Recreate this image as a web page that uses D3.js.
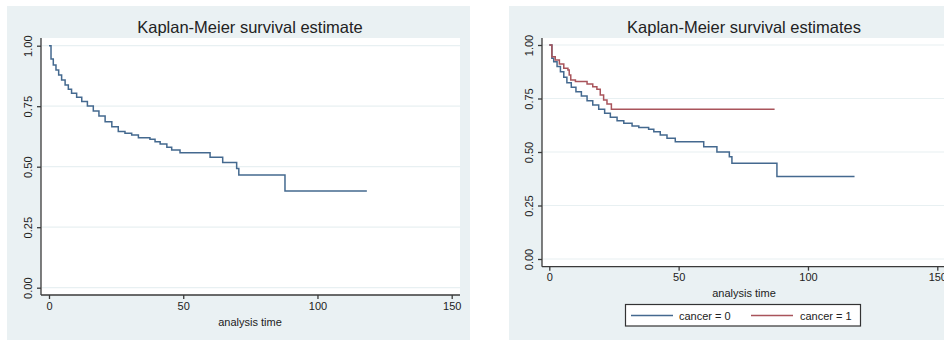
<!DOCTYPE html>
<html>
<head>
<meta charset="utf-8">
<script src="https://cdn.jsdelivr.net/npm/d3@7"></script>
<style>
  html, body { margin: 0; padding: 0; background: #ffffff; }
  svg { display: block; }
  text { font-family: "Liberation Sans", Arial, Helvetica, sans-serif; fill: #222; }
</style>
</head>
<body>
<svg id="chart" width="944" height="340"></svg>
<script>
// ---- data ----
const yTicks = [0, 0.25, 0.5, 0.75, 1];
const xTicks = [0, 50, 100, 150];
const titles = ["Kaplan-Meier survival estimate", "Kaplan-Meier survival estimates"];
const xAxisTitle = "analysis time";
const legendLabels = ["cancer = 0", "cancer = 1"];

const overallTime = [0, 0.75, 1.6, 2.6, 3.6, 4.7, 6.0, 7.2, 8.4, 10.3, 12.2, 14.3, 16.5, 18.6, 20.9, 23.4, 25.8, 28.3, 30.8, 33.3, 37.6, 39.5, 41.4, 43.9, 45.7, 48.8, 60.0, 64.7, 69.9, 70.7, 87.9, 118.4];
const overallSurv = [1, 0.945, 0.92, 0.90, 0.879, 0.858, 0.838, 0.82, 0.803, 0.787, 0.769, 0.751, 0.730, 0.709, 0.686, 0.665, 0.645, 0.638, 0.631, 0.620, 0.613, 0.603, 0.594, 0.580, 0.569, 0.558, 0.539, 0.517, 0.493, 0.466, 0.40, 0.40];

const cancer0Time = [0, 1.0, 1.7, 3.0, 4.3, 5.6, 6.8, 8.5, 10.3, 12.4, 14.6, 16.8, 19.1, 21.4, 23.6, 26.2, 28.8, 32.0, 34.6, 38.4, 40.4, 42.9, 45.5, 48.7, 59.7, 64.8, 69.6, 70.6, 88.0, 118.0];
const cancer0Surv = [1, 0.938, 0.922, 0.899, 0.875, 0.849, 0.824, 0.802, 0.782, 0.762, 0.740, 0.720, 0.700, 0.681, 0.662, 0.646, 0.634, 0.621, 0.614, 0.606, 0.595, 0.579, 0.564, 0.548, 0.525, 0.500, 0.478, 0.447, 0.385, 0.385];

const cancer1Time = [0, 1.0, 2.3, 3.9, 5.6, 7.2, 7.7, 8.3, 10.1, 14.6, 16.8, 18.4, 19.7, 21.0, 22.3, 24.0, 87.1];
const cancer1Surv = [1, 0.945, 0.930, 0.911, 0.891, 0.883, 0.860, 0.836, 0.829, 0.818, 0.805, 0.793, 0.766, 0.743, 0.724, 0.700, 0.700];

const colors = ["#44698f", "#a9545b"];
const BG = "#eaf1f3";

const svg = d3.select("#chart");

function panel(cfg) {
  const g = svg.append("g");
  g.append("rect").attr("x", cfg.bg[0]).attr("y", cfg.bg[1])
    .attr("width", cfg.bg[2]).attr("height", cfg.bg[3]).attr("fill", BG);
  g.append("rect").attr("x", cfg.plot[0]).attr("y", cfg.plot[1])
    .attr("width", cfg.plot[2] - cfg.plot[0]).attr("height", cfg.plot[3] - cfg.plot[1])
    .attr("fill", "#ffffff");

  const x = d3.scaleLinear().domain([0, 150]).range(cfg.xr);
  const y = d3.scaleLinear().domain([0, 1]).range(cfg.yr);

  g.append("g").selectAll("line").data(yTicks).join("line")
    .attr("x1", cfg.plot[0] + 1).attr("x2", cfg.plot[2])
    .attr("y1", d => y(d)).attr("y2", d => y(d))
    .attr("stroke", "#e8f0f2").attr("stroke-width", 1.2);

  const xa = g.append("g").attr("transform", `translate(0,${cfg.plot[3]})`)
    .call(d3.axisBottom(x).tickValues(xTicks).tickSize(4).tickPadding(3).tickFormat(d3.format("d")));
  xa.select(".domain").attr("d", `M${cfg.plot[0]},0H${cfg.plot[2]}`);
  xa.selectAll("path,line").attr("stroke", "#3a3a3a").attr("stroke-width", 1.3);
  xa.selectAll("text").attr("font-size", 11).attr("fill", "#222")
    .style("font-family", '"Liberation Sans", Arial, sans-serif');

  const ya = g.append("g").attr("transform", `translate(${cfg.plot[0]},0)`)
    .call(d3.axisLeft(y).tickValues(yTicks).tickSize(4).tickFormat(d3.format(".2f")));
  ya.select(".domain").attr("d", `M0,${cfg.plot[1]}V${cfg.plot[3]}`);
  ya.selectAll("path,line").attr("stroke", "#3a3a3a").attr("stroke-width", 1.3);
  ya.selectAll("text")
    .attr("font-size", 11).attr("fill", "#222")
    .attr("x", null).attr("dy", null)
    .attr("text-anchor", "middle")
    .attr("transform", "translate(-12,0) rotate(-90)")
    .attr("dominant-baseline", "middle")
    .style("font-family", '"Liberation Sans", Arial, sans-serif');

  const line = d3.line().x(d => x(d[0])).y(d => y(d[1])).curve(d3.curveStepAfter);
  cfg.series.forEach((s, i) => {
    const pts = s.t.map((t, k) => [t, s.s[k]]);
    g.append("path").datum(pts).attr("d", line)
      .attr("fill", "none").attr("stroke", colors[i]).attr("stroke-width", 1.5);
  });

  g.append("text").attr("x", cfg.titleX).attr("y", 32.5).attr("text-anchor", "middle")
    .attr("font-size", 16.5).attr("fill", "#1e1e1e").text(cfg.title);
  g.append("text").attr("x", cfg.titleX).attr("y", cfg.xtitleY).attr("text-anchor", "middle")
    .attr("font-size", 11).attr("fill", "#222").text(xAxisTitle);
  return {x, y};
}

panel({
  bg: [7, 6, 463, 334],
  plot: [41, 38, 460, 295],
  xr: [49, 451.7],
  yr: [287.7, 45.7],
  titleX: 250,
  xtitleY: 326,
  title: titles[0],
  series: [{t: overallTime, s: overallSurv}]
});

panel({
  bg: [509, 6, 435, 334],
  plot: [542, 38, 944, 266.7],
  xr: [549.3, 937.3],
  yr: [259, 45],
  titleX: 744,
  xtitleY: 297,
  title: titles[1],
  series: [{t: cancer0Time, s: cancer0Surv}, {t: cancer1Time, s: cancer1Surv}]
});

const lg = svg.append("g");
lg.append("rect").attr("x", 625.5).attr("y", 304.5).attr("width", 235).attr("height", 21.5)
  .attr("fill", "#ffffff").attr("stroke", "#333").attr("stroke-width", 1.2);
const legendItems = [
  {x1: 631, x2: 673, tx: 679},
  {x1: 751, x2: 793, tx: 800}
];
legendItems.forEach((it, i) => {
  lg.append("line").attr("x1", it.x1).attr("x2", it.x2).attr("y1", 315.5).attr("y2", 315.5)
    .attr("stroke", colors[i]).attr("stroke-width", 1.3);
  lg.append("text").attr("x", it.tx).attr("y", 319.5).attr("font-size", 11)
    .attr("fill", "#222").text(legendLabels[i]);
});
</script>
</body>
</html>
